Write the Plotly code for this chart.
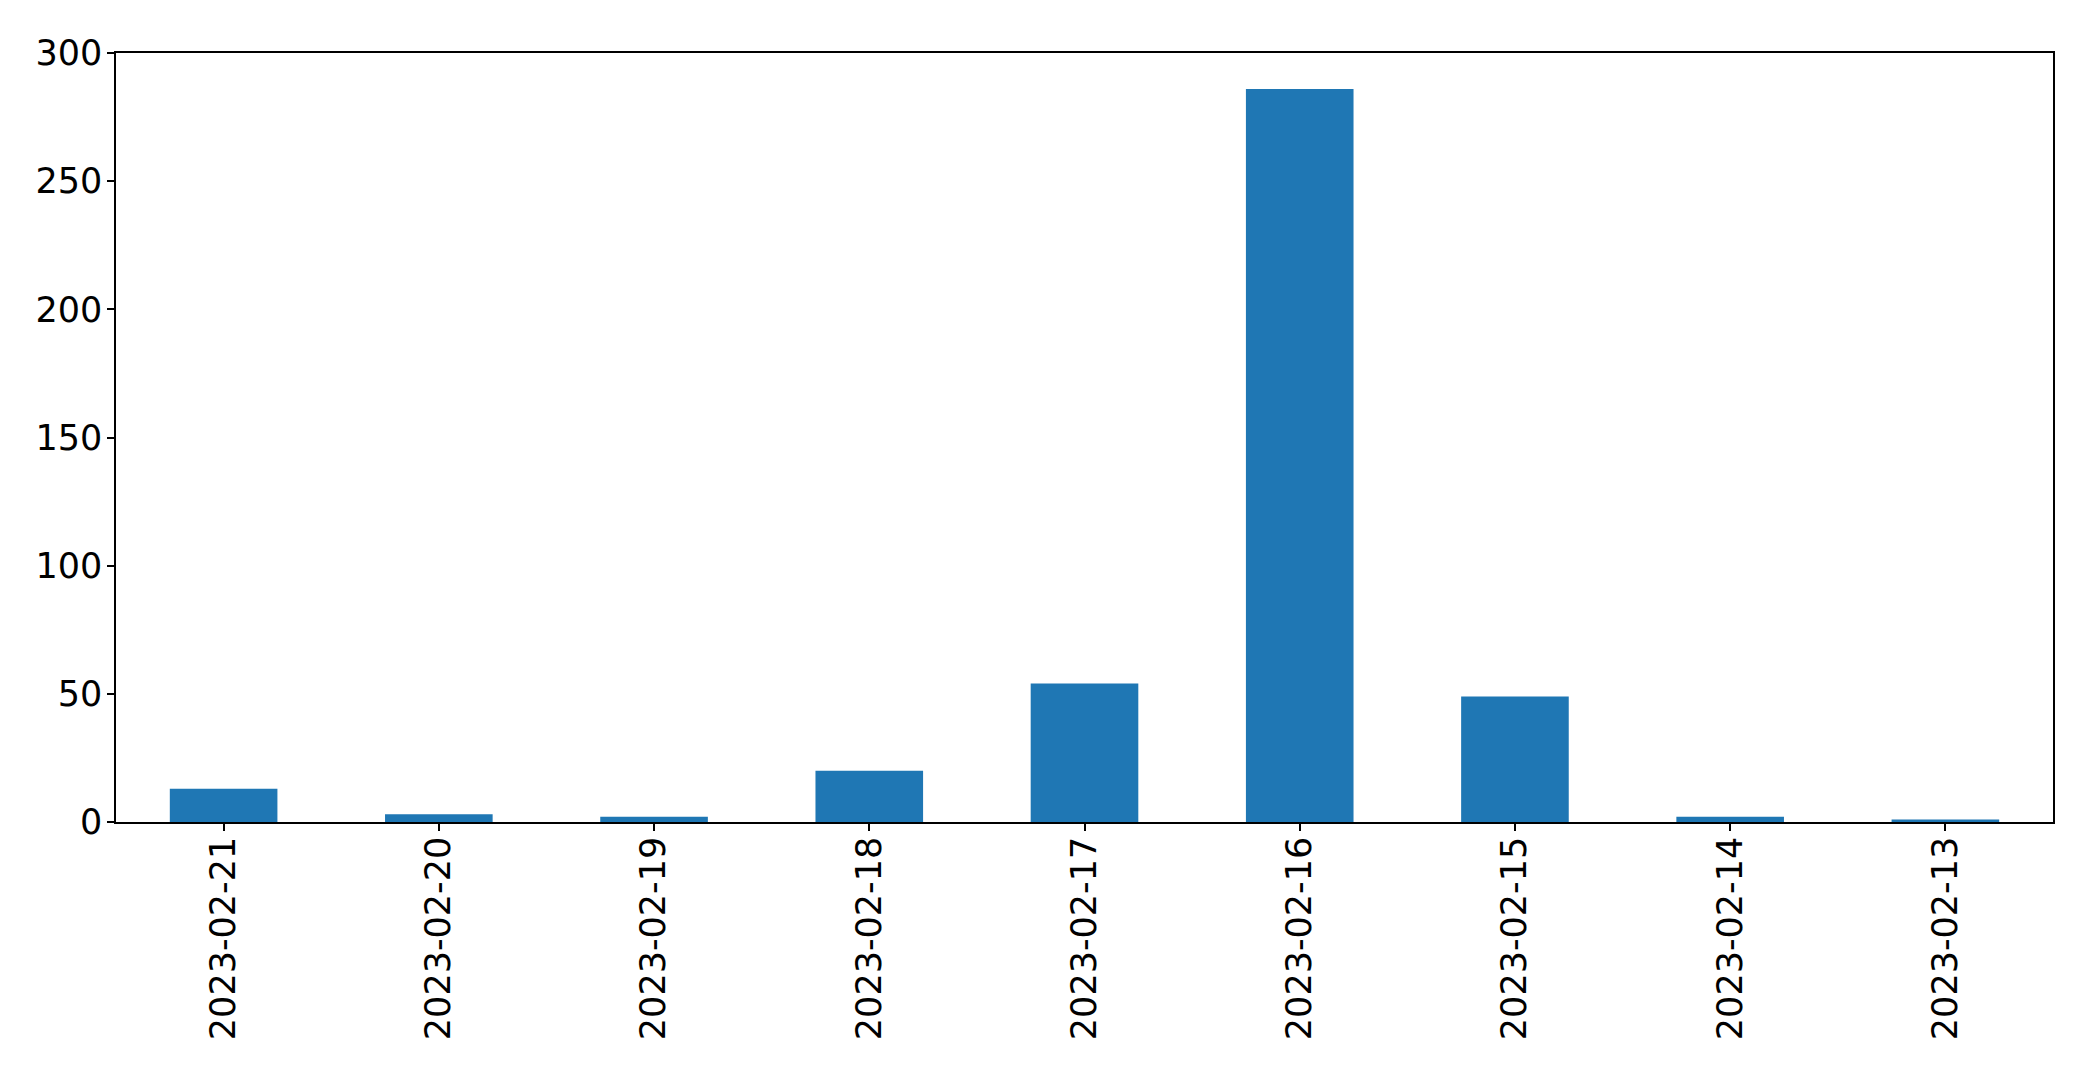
import plotly.graph_objects as go

dates = ["2023-02-21", "2023-02-20", "2023-02-19", "2023-02-18", "2023-02-17",
         "2023-02-16", "2023-02-15", "2023-02-14", "2023-02-13"]
counts = [13, 3, 2, 20, 54, 286, 49, 2, 1]
y_ticks = [0, 50, 100, 150, 200, 250, 300]

fig = go.Figure(go.Bar(x=dates, y=counts, width=0.5, marker_color="#1f77b4",
                       marker_line_width=0))

fig.update_layout(
    width=2085, height=1066,
    margin=dict(l=108, r=40, t=45, b=252),
    plot_bgcolor="white", paper_bgcolor="white",
    font=dict(family="DejaVu Sans", size=35, color="black"),
    showlegend=False,
)
fig.update_xaxes(type="category", tickangle=-90, showline=True, linecolor="black",
                 linewidth=1.5, mirror=True, ticks="outside", ticklen=7, tickwidth=1.5,
                 tickcolor="black", showgrid=False, range=[-0.5, 8.5],
                 ticklabelstandoff=-8)
fig.update_yaxes(range=[0, 300], tickvals=y_ticks, showline=True, linecolor="black",
                 linewidth=1.5, mirror=True, ticks="outside", ticklen=7, tickwidth=1.5,
                 tickcolor="black", showgrid=False, zeroline=False,
                 ticklabelstandoff=-2)

fig.write_html("out.html")
